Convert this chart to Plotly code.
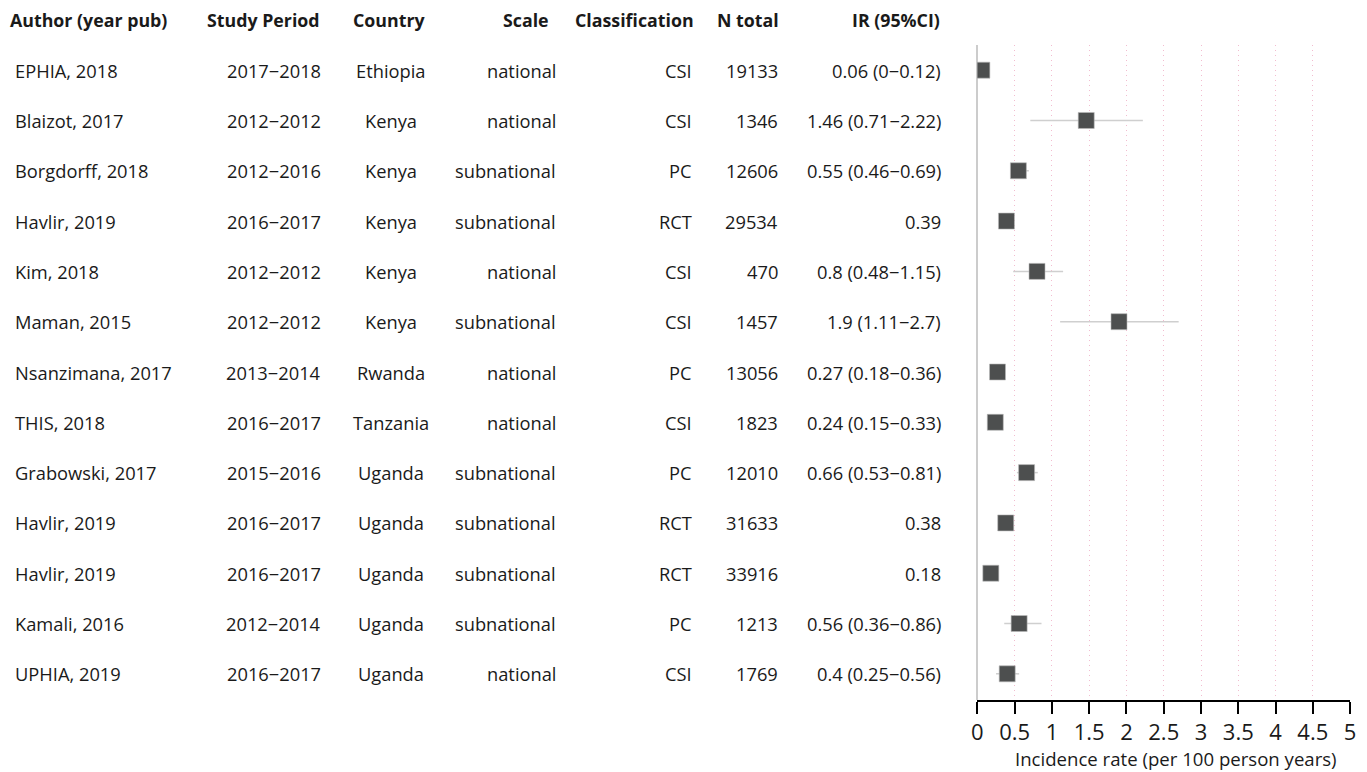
import plotly.graph_objects as go

authors = ["EPHIA, 2018", "Blaizot, 2017", "Borgdorff, 2018", "Havlir, 2019", "Kim, 2018",
           "Maman, 2015", "Nsanzimana, 2017", "THIS, 2018", "Grabowski, 2017", "Havlir, 2019",
           "Havlir, 2019", "Kamali, 2016", "UPHIA, 2019"]
periods = ["2017−2018", "2012−2012", "2012−2016", "2016−2017", "2012−2012", "2012−2012",
           "2013−2014", "2016−2017", "2015−2016", "2016−2017", "2016−2017", "2012−2014", "2016−2017"]
countries = ["Ethiopia", "Kenya", "Kenya", "Kenya", "Kenya", "Kenya", "Rwanda", "Tanzania",
             "Uganda", "Uganda", "Uganda", "Uganda", "Uganda"]
scales = ["national", "national", "subnational", "subnational", "national", "subnational",
          "national", "national", "subnational", "subnational", "subnational", "subnational", "national"]
classes = ["CSI", "CSI", "PC", "RCT", "CSI", "CSI", "PC", "CSI", "PC", "RCT", "RCT", "PC", "CSI"]
n_total = [19133, 1346, 12606, 29534, 470, 1457, 13056, 1823, 12010, 31633, 33916, 1213, 1769]
ir = [0.06, 1.46, 0.55, 0.39, 0.8, 1.9, 0.27, 0.24, 0.66, 0.38, 0.18, 0.56, 0.4]
ci_lo = [0, 0.71, 0.46, None, 0.48, 1.11, 0.18, 0.15, 0.53, None, None, 0.36, 0.25]
ci_hi = [0.12, 2.22, 0.69, None, 1.15, 2.7, 0.36, 0.33, 0.81, None, None, 0.86, 0.56]
headers = ["Author (year pub)", "Study Period", "Country", "Scale", "Classification", "N total", "IR (95%CI)"]
x_ticks = [0, 0.5, 1, 1.5, 2, 2.5, 3, 3.5, 4, 4.5, 5]
x_title = "Incidence rate (per 100 person years)"

W, H = 1367, 772
FONT = "Open Sans"
TXT = "#1a1a1a"
rows = list(range(len(authors)))

def fmt(v):
    return f"{v:g}"

ir_labels = []
for v, lo, hi in zip(ir, ci_lo, ci_hi):
    if lo is None:
        ir_labels.append(fmt(v))
    else:
        ir_labels.append(f"{fmt(v)} ({fmt(lo)}−{fmt(hi)})")

err_plus = [0 if h is None else h - v for v, h in zip(ir, ci_hi)]
err_minus = [0 if l is None else v - l for v, l in zip(ir, ci_lo)]

fig = go.Figure()
fig.add_trace(go.Scatter(
    x=ir, y=rows, mode="markers",
    marker=dict(symbol="square", size=16, color="#4d4f4f", line=dict(width=0.6, color="#bbbbbb")),
    error_x=dict(type="data", symmetric=False, array=err_plus, arrayminus=err_minus,
                 color="#cfcfcf", thickness=1.5, width=0),
    hoverinfo="skip", showlegend=False))

# table columns: (values, x pixel, anchor, header x pixel, header anchor)
cols = [
    (authors, 7, "left", 2, "left"),
    (periods, 320, "right", 319, "right"),
    (countries, 388, "center", 387, "center"),
    (scales, 557, "right", 550, "right"),
    (classes, 694, "right", 696, "right"),
    ([str(n) for n in n_total], 781, "right", 782, "right"),
    (ir_labels, 945, "right", 944, "right"),
]
ann = []
for (vals, xp, anc, hxp, hanc), hdr in zip(cols, headers):
    for r, v in zip(rows, vals):
        ann.append(dict(x=xp / W, y=r, xref="paper", yref="y", text=v, showarrow=False,
                        xanchor=anc, yanchor="middle",
                        font=dict(family=FONT, size=18.3, color=TXT)))
    ann.append(dict(x=hxp / W, y=1 - 20 / H, xref="paper", yref="paper", text=f"<b>{hdr}</b>",
                    showarrow=False, xanchor=hanc, yanchor="middle",
                    font=dict(family=FONT, size=17.8, color=TXT)))
ann.append(dict(x=1180 / W, y=1 - 758 / H, xref="paper", yref="paper", text=x_title,
                showarrow=False, xanchor="center", yanchor="middle",
                font=dict(family=FONT, size=18.6, color=TXT)))

fig.update_layout(
    width=W, height=H, margin=dict(l=0, r=0, t=0, b=0),
    plot_bgcolor="white", paper_bgcolor="white",
    annotations=ann,
    xaxis=dict(domain=[980 / W, 1356 / W], range=[0, 5], tickvals=x_ticks,
               ticktext=[fmt(t) for t in x_ticks],
               showgrid=True, gridcolor="#f2bccf", griddash="1px,4px", gridwidth=1,
               zeroline=True, zerolinecolor="#cccccc", zerolinewidth=1.5,
               showline=True, linecolor="black", linewidth=1.5,
               ticks="outside", ticklen=12, tickcolor="black", tickwidth=1.5,
               tickfont=dict(family=FONT, size=22, color=TXT),
               fixedrange=True),
    yaxis=dict(domain=[1 - 700 / H, 1 - 45 / H], range=[12.52, -0.5], showgrid=False,
               zeroline=False, showticklabels=False, showline=False, ticks="", fixedrange=True),
)

fig.write_html("out.html", config={"displayModeBar": False},
               post_script="document.body.style.margin='0px';document.body.style.overflow='hidden';")
